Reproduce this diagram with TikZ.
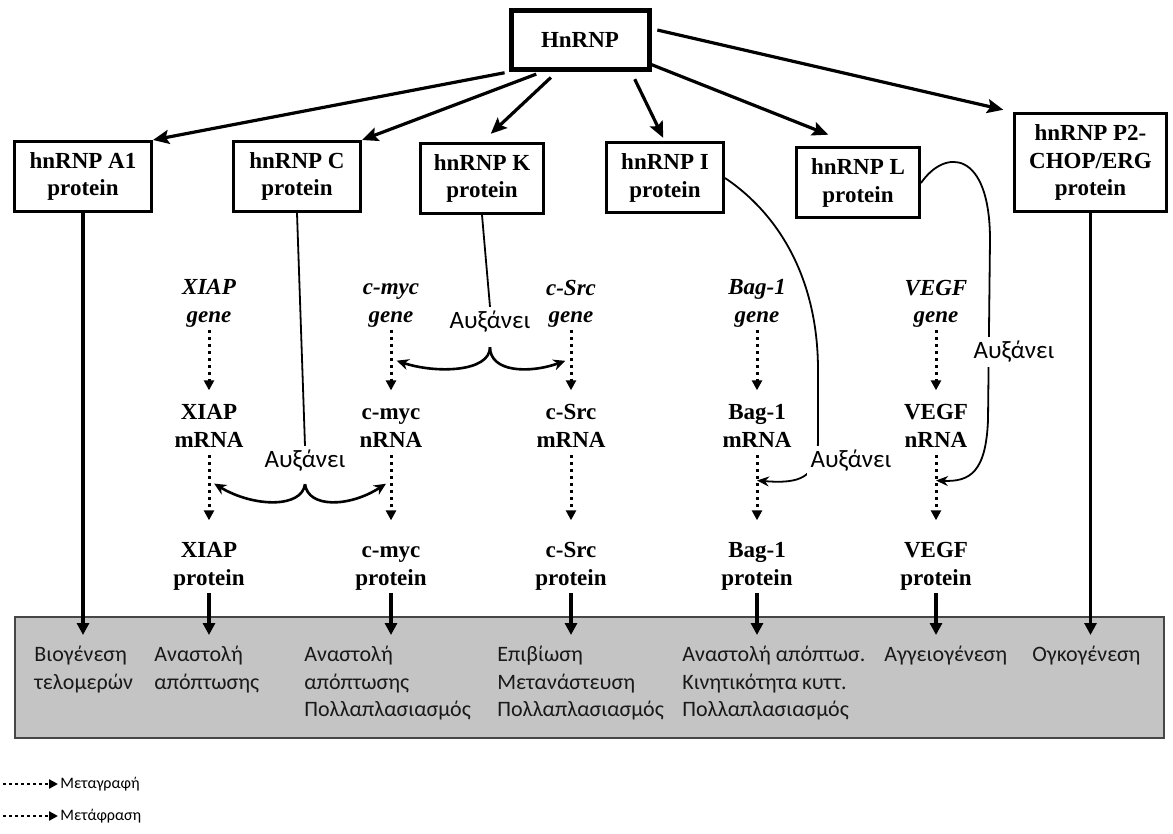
\documentclass[tikz,border=0pt]{standalone}
\usepackage{fontspec}
\setmainfont{Liberation Serif}
\newfontfamily\grk{Carlito}
\usetikzlibrary{arrows.meta,calc}
\definecolor{boxgray}{RGB}{196,196,196}
\definecolor{edgegray}{RGB}{70,70,70}
\newcommand{\pair}[2]{\vphantom{Xg}#1\\\vphantom{Xg}#2}
\begin{document}
\begin{tikzpicture}[x=0.5pt,y=-0.5pt,
    prot/.style={draw, line width=1.5pt, font=\fontsize{11.5}{13.75}\selectfont\bfseries, align=center, minimum height=35pt, inner sep=2pt},
    lbl/.style={font=\fontsize{11.5}{13.75}\selectfont\bfseries, align=center, inner sep=1pt},
    gene/.style={lbl, font=\fontsize{11.5}{13.75}\selectfont\bfseries\itshape},
    big/.style={line width=1.6pt, -{Stealth[length=8pt,width=7pt,inset=1.5pt]}},
    down/.style={line width=1.6pt, -{Triangle[length=6pt,width=6pt]}},
    trans/.style={line width=1.5pt, dash pattern=on 1.5pt off 2pt, -{Triangle[length=5pt,width=5pt]}, shorten >=6pt},
    legdot/.style={line width=1.3pt, dash pattern=on 1.3pt off 1.7pt, -{Triangle[length=4.5pt,width=4.5pt]}},
    link/.style={line width=0.9pt},
    split/.style={line width=1.3pt, -{Stealth[length=6pt,width=5.5pt]}, shorten >=3pt},
    aux/.style={font=\fontsize{12.5}{14}\selectfont\grk, fill=white, inner sep=2pt},
    res/.style={font=\fontsize{11}{13.75}\selectfont\grk, align=left, anchor=north west, inner sep=0pt, text=black!90}]
    \useasboundingbox (0,0) rectangle (1173,834);

    \node[prot, line width=2.5pt, minimum width=69pt, minimum height=29.5pt] (top) at (580,40) {HnRNP};
    \node[prot, minimum width=68.5pt] (a1) at (83,176.5) {hnRNP A1\\protein};
    \node[prot, minimum width=63.5pt] (c) at (297,176.5) {hnRNP C\\protein};
    \node[prot, minimum width=61.5pt] (k) at (482,178.5) {hnRNP K\\protein};
    \node[prot, minimum width=58.5pt] (i) at (665,178) {hnRNP I\\protein};
    \node[prot, minimum width=61.5pt] (l) at (858,183) {hnRNP L\\protein};
    \node[prot, minimum width=76pt, minimum height=49pt] (p2) at (1090.5,162.5) {hnRNP P2-\\CHOP/ERG\\protein};

    \draw[big, shorten <=2pt] (top.south west) -- (a1.north east);
    \draw[big, shorten <=3pt] (top.220) -- (c.north east);
    \draw[big, shorten <=4pt, shorten >=6pt] (top.234) -- (k.north);
    \draw[big, shorten <=4pt, shorten >=2pt] (top.-32) -- (i.north);
    \draw[big, shorten >=16pt] (top.-19) -- (l.north);
    \draw[big, shorten <=3pt, shorten >=5pt] (top.9.5) -- (p2.north west);

    \node[gene] (xiapG) at (209,303.6) {\pair{XIAP}{gene}};
    \node[lbl] (xiapM) at (209,428.6) {\pair{XIAP}{mRNA}};
    \node[lbl] (xiapP) at (209,566.6) {\pair{XIAP}{protein}};
    \node[gene] (mycG) at (391,303.6) {\pair{c-myc}{gene}};
    \node[lbl] (mycM) at (391,428.6) {\pair{c-myc}{nRNA}};
    \node[lbl] (mycP) at (391,566.6) {\pair{c-myc}{protein}};
    \node[gene] (srcG) at (571,303.6) {\pair{c-Src}{gene}};
    \node[lbl] (srcM) at (571,428.6) {\pair{c-Src}{mRNA}};
    \node[lbl] (srcP) at (571,566.6) {\pair{c-Src}{protein}};
    \node[gene] (bagG) at (757,303.6) {\pair{Bag-1}{gene}};
    \node[lbl] (bagM) at (757,428.6) {\pair{Bag-1}{mRNA}};
    \node[lbl] (bagP) at (757,566.6) {\pair{Bag-1}{protein}};
    \node[gene] (vegfG) at (936,303.6) {\pair{VEGF}{gene}};
    \node[lbl] (vegfM) at (936,428.6) {\pair{VEGF}{nRNA}};
    \node[lbl] (vegfP) at (936,566.6) {\pair{VEGF}{protein}};

    \draw[trans] (xiapG.south) -- (xiapM.north);
    \draw[trans] (mycG.south) -- (mycM.north);
    \draw[trans] (srcG.south) -- (srcM.north);
    \draw[trans] (bagG.south) -- (bagM.north);
    \draw[trans] (vegfG.south) -- (vegfM.north);
    \draw[trans, shorten >=10pt] (xiapM.south) -- (xiapP.north);
    \draw[trans, shorten >=10pt] (mycM.south) -- (mycP.north);
    \draw[trans, shorten >=10pt] (srcM.south) -- (srcP.north);
    \draw[trans, shorten >=10pt] (bagM.south) -- (bagP.north);
    \draw[trans, shorten >=10pt] (vegfM.south) -- (vegfP.north);

    \coordinate (mycU) at ($(mycG.south)!0.4!(mycM.north)$);
    \coordinate (srcU) at ($(srcG.south)!0.4!(srcM.north)$);
    \coordinate (xiapL) at ($(xiapM.south)!0.3!(xiapP.north)$);
    \coordinate (mycL) at ($(mycM.south)!0.3!(mycP.north)$);
    \coordinate (bagL) at ($(bagM.south)!0.3!(bagP.north)$);
    \coordinate (vegfL) at ($(vegfM.south)!0.3!(vegfP.north)$);

    \draw[fill=boxgray, draw=edgegray, line width=1pt] (15,617) rectangle (1164,738);
    \coordinate (lvl) at (0,635);

    \draw[down] (a1.south) -- (a1.south |- lvl);
    \draw[down] (xiapP.south) -- (xiapP.south |- lvl);
    \draw[down] (mycP.south) -- (mycP.south |- lvl);
    \draw[down] (srcP.south) -- (srcP.south |- lvl);
    \draw[down] (bagP.south) -- (bagP.south |- lvl);
    \draw[down] (vegfP.south) -- (vegfP.south |- lvl);
    \draw[down] (p2.south) -- (p2.south |- lvl);

    \node[aux] (augK) at (490,322) {Αυξάνει};
    \node[aux] (augC) at (305,461) {Αυξάνει};
    \draw[link] (k.south) -- (augK.north);
    \draw[link] (c.south) -- (augC.north);
    \draw[split] ([yshift=-5pt]augK.south) .. controls +(0,25) and +(45,15) .. (mycU);
    \draw[split] ([yshift=-5pt]augK.south) .. controls +(0,25) and +(-42,15) .. (srcU);
    \draw[split] ([yshift=-4pt]augC.south) .. controls +(-3,24) and +(45,27) .. (xiapL);
    \draw[split] ([yshift=-4pt]augC.south) .. controls +(3,24) and +(-42,27) .. (mycL);

    \draw[link, -{Stealth[length=6pt,width=5pt]}] (i.east) .. controls (780,215) and (818,280) .. (818,370) -- (818,440) .. controls (818,478) and (800,484) .. (bagL);
    \draw[link, -{Stealth[length=6pt,width=5pt]}] (l.east) .. controls (945,148) and (990,150) .. (990,240) -- (988,420) .. controls (986,472) and (970,482) .. (vegfL);
    \node[aux] (augI) at (851,461) {Αυξάνει};
    \node[aux] (augL) at (1014,352) {Αυξάνει};

    \node[res] (r1) at (34,646) {Βιογένεση\\τελομερών};
    \node[res] (r2) at (154,646) {Αναστολή\\απόπτωσης};
    \node[res] (r3) at (304,646) {Αναστολή\\απόπτωσης\\Πολλαπλασιασμός};
    \node[res] (r4) at (497,646) {Επιβίωση\\Μετανάστευση\\Πολλαπλασιασμός};
    \node[res] (r5) at (682,646) {Αναστολή απόπτωσ.\\Κινητικότητα κυττ.\\Πολλαπλασιασμός};
    \node[res] (r6) at (884,646) {Αγγειογένεση};
    \node[res] (r7) at (1032,646) {Ογκογένεση};

    \coordinate (lg1) at (3,784);
    \coordinate (lg2) at (3,816);
    \node[anchor=west, inner sep=1pt, font=\fontsize{8}{10}\selectfont\grk] (leg1) at (58,784) {Μεταγραφή};
    \node[anchor=west, inner sep=1pt, font=\fontsize{8}{10}\selectfont\grk] (leg2) at (58,816) {Μετάφραση};
    \draw[legdot] (lg1) -- (leg1.west);
    \draw[legdot] (lg2) -- (leg2.west);
\end{tikzpicture}
\end{document}
